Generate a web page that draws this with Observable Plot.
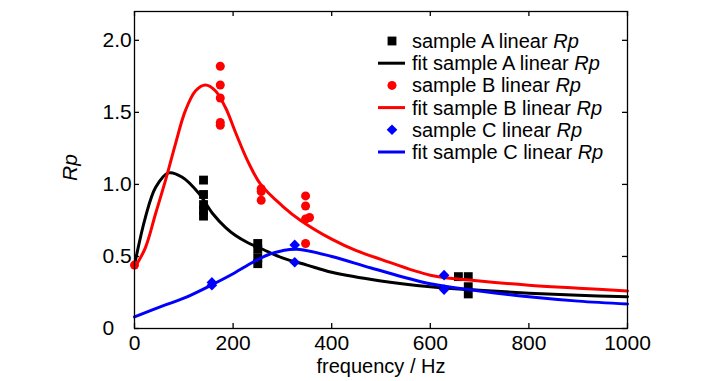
<!DOCTYPE html>
<html><head><meta charset="utf-8">
<script src="https://cdn.jsdelivr.net/npm/d3@7"></script>
<script src="https://cdn.jsdelivr.net/npm/@observablehq/plot@0.6"></script>
<style>
body{margin:0;background:#fff;}
#wrap{position:relative;width:727px;height:381px;font-family:"Liberation Sans",Arial,sans-serif;}
#legend{position:absolute;left:0;top:0;}
</style></head>
<body><div id="wrap"></div>
<script>
// ---- data ----
const xTicks = [0, 200, 400, 600, 800, 1000];
const xTickLabels = ["0", "200", "400", "600", "800", "1000"];
const yTicks = [0, 0.5, 1.0, 1.5, 2.0];
const yTickLabels = ["0", "0.5", "1.0", "1.5", "2.0"];
const xLabel = "frequency / Hz";
const yLabel = "Rp";

const sampleA_f = [140, 140, 140, 140, 140, 250, 250, 250, 250, 657, 677, 677, 677];
const sampleA_r = [1.03, 0.93, 0.86, 0.82, 0.78, 0.59, 0.55, 0.49, 0.45, 0.36, 0.36, 0.29, 0.24];
const sampleB_f = [0, 174, 174, 174, 174, 174, 257, 257, 257, 347, 347, 347, 355, 347];
const sampleB_r = [0.44, 1.82, 1.69, 1.60, 1.43, 1.41, 0.97, 0.95, 0.89, 0.92, 0.85, 0.76, 0.77, 0.59];
const sampleC_f = [157, 157, 325, 325, 628, 628];
const sampleC_r = [0.32, 0.30, 0.58, 0.46, 0.37, 0.27];

const fitA_f = [0, 22, 43, 69, 97, 130, 158, 185, 205, 230, 260, 300, 350, 400, 500, 600, 700, 800, 900, 1000];
const fitA_r = [0.44, 0.77, 0.98, 1.08, 1.05, 0.94, 0.80, 0.70, 0.645, 0.595, 0.55, 0.49, 0.44, 0.39, 0.33, 0.29, 0.265, 0.245, 0.23, 0.22];
const fitB_f = [0, 22, 43, 63, 83, 103, 124, 144, 164, 185, 205, 230, 256, 300, 337, 400, 450, 500, 600, 700, 800, 900, 1000];
const fitB_r = [0.42, 0.56, 0.80, 1.03, 1.28, 1.51, 1.65, 1.69, 1.65, 1.53, 1.36, 1.16, 1.00, 0.85, 0.75, 0.62, 0.54, 0.48, 0.37, 0.33, 0.30, 0.28, 0.26];
const fitC_f = [0, 60, 100, 155, 200, 240, 270, 300, 330, 400, 480, 600, 700, 800, 900, 1000];
const fitC_r = [0.08, 0.16, 0.21, 0.30, 0.38, 0.46, 0.51, 0.54, 0.55, 0.50, 0.42, 0.31, 0.26, 0.22, 0.19, 0.17];

const legendLabels = ["sample A linear ", "fit sample A linear ", "sample B linear ", "fit sample B linear ", "sample C linear ", "fit sample C linear "];
const seriesColors = ["#000000", "#ff0000", "#0000ff"];

// ---- build tables ----
const pts = (f, r) => f.map((x, i) => ({x, y: r[i]}));
const A = pts(sampleA_f, sampleA_r), B = pts(sampleB_f, sampleB_r), C = pts(sampleC_f, sampleC_r);
const FA = pts(fitA_f, fitA_r), FB = pts(fitB_f, fitB_r), FC = pts(fitC_f, fitC_r);

const W = 727, H = 381, mL = 134, mR = 100, mT = 11, mB = 53;
const pw = W - mL - mR, ph = H - mT - mB;
const font = "\"Liberation Sans\", Arial, sans-serif";

const chart = Plot.plot({
  width: W, height: H,
  marginLeft: mL, marginRight: mR, marginTop: mT, marginBottom: mB,
  x: {domain: [0, 1000], axis: null},
  y: {domain: [0, 2.2], axis: null},
  style: {fontFamily: font, fontSize: "20px", background: "#fff", color: "#000", overflow: "visible"},
  marks: [
    Plot.dot(A, {x: "x", y: "y", symbol: "square", r: 5, fill: seriesColors[0], stroke: "none"}),
    Plot.line(FA, {x: "x", y: "y", stroke: seriesColors[0], strokeWidth: 3, curve: "catmull-rom"}),
    Plot.dot(B, {x: "x", y: "y", symbol: "circle", r: 4.5, fill: seriesColors[1], stroke: "none"}),
    Plot.line(FB, {x: "x", y: "y", stroke: seriesColors[1], strokeWidth: 3, curve: "catmull-rom"}),
    Plot.dot(C, {x: "x", y: "y", symbol: "diamond2", r: 4.8, fill: seriesColors[2], stroke: "none"}),
    Plot.line(FC, {x: "x", y: "y", stroke: seriesColors[2], strokeWidth: 3, curve: "catmull-rom"}),
    Plot.frame({stroke: "#000", strokeWidth: 1.3}),
    // inward ticks
    Plot.tickX(xTicks, {x: d => d, insetTop: ph - 5, stroke: "#000", strokeWidth: 1.3}),
    Plot.tickX(xTicks, {x: d => d, insetBottom: ph - 5, stroke: "#000", strokeWidth: 1.3}),
    Plot.tickY(yTicks, {y: d => d, insetRight: pw - 5, stroke: "#000", strokeWidth: 1.3}),
    Plot.tickY(yTicks, {y: d => d, insetLeft: pw - 5, stroke: "#000", strokeWidth: 1.3}),
    // tick labels
    Plot.text(xTicks, {x: d => d, text: (d, i) => xTickLabels[i], frameAnchor: "bottom", lineAnchor: "top", dy: 7, fontSize: 21}),
    Plot.text(yTicks, {y: d => d, text: (d, i) => yTickLabels[i], frameAnchor: "left", textAnchor: "start", dx: -32, fontSize: 21}),
    // axis titles
    Plot.text([xLabel], {text: d => d, frameAnchor: "bottom", lineAnchor: "middle", dy: 38, fontSize: 20}),
    Plot.text([yLabel], {text: d => d, frameAnchor: "left", rotate: -90, dx: -64, dy: 11, fontSize: 21, fontStyle: "italic"})
  ]
});

const wrap = document.getElementById("wrap");
wrap.appendChild(chart);

// ---- legend overlay ----
const lg = d3.select(wrap).append("svg").attr("id", "legend").attr("width", W).attr("height", H)
  .style("font-family", font).style("font-size", "20px");
const rowY0 = 41, rowStep = 22.2, mx = 392, tx = 412;
const symbols = [d3.symbolSquare, d3.symbolCircle, d3.symbolDiamond2];
const sizes = [78, 64, 72];
legendLabels.forEach((lab, i) => {
  const s = Math.floor(i / 2), y = rowY0 + i * rowStep;
  if (i % 2 === 0) {
    lg.append("path").attr("d", d3.symbol(symbols[s], sizes[s])()).attr("transform", `translate(${mx},${y})`).attr("fill", seriesColors[s]);
  } else {
    lg.append("line").attr("x1", 378).attr("x2", 405).attr("y1", y).attr("y2", y).attr("stroke", seriesColors[s]).attr("stroke-width", 3);
  }
  const t = lg.append("text").attr("x", tx).attr("y", y + 7).attr("fill", "#000");
  t.append("tspan").text(lab);
  t.append("tspan").attr("font-style", "italic").text("Rp");
});
</script></body></html>
